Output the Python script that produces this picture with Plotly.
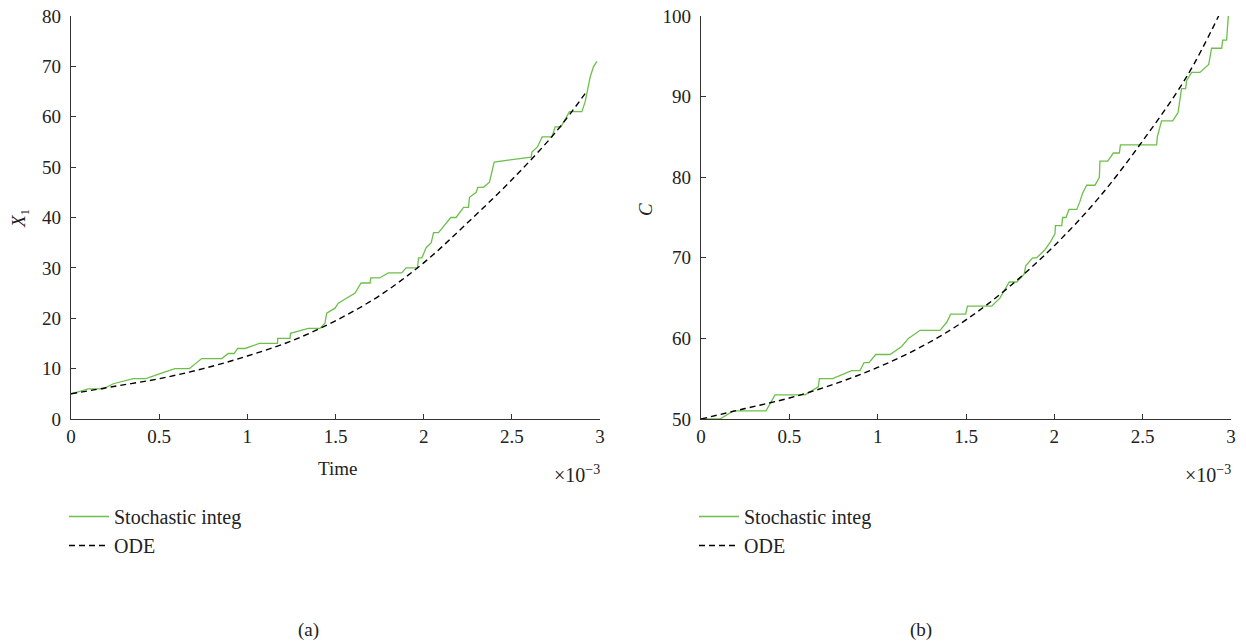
import plotly.graph_objects as go

W, H = 1246, 643

# ---- Panel (a): X1 vs time (time in units of 1e-3) ----
t_a = [0, 0.098, 0.183, 0.24, 0.353, 0.425, 0.505, 0.59, 0.671, 0.741,
       0.855, 0.892, 0.925, 0.945, 0.987, 1.068, 1.171, 1.172, 1.242, 1.245,
       1.346, 1.412, 1.44, 1.45, 1.497, 1.516, 1.611, 1.645, 1.696, 1.70,
       1.749, 1.80, 1.876, 1.90, 1.965, 1.971, 1.99, 2.014, 2.043, 2.056,
       2.084, 2.132, 2.154, 2.184, 2.226, 2.254, 2.26, 2.298, 2.307, 2.339,
       2.373, 2.40, 2.61, 2.614, 2.645, 2.672, 2.727, 2.746, 2.778, 2.827,
       2.897, 2.916, 2.945, 2.964, 2.983]
x1_stoch = [5, 6, 6, 7, 8, 8, 9, 10, 10, 12,
            12, 13, 13, 14, 14, 15, 15, 16, 16, 17,
            18, 18, 19, 21, 22, 23, 25, 27, 27, 28,
            28, 29, 29, 30, 30, 32, 32, 34, 35, 37,
            37, 39, 40, 40, 42, 42, 44, 45, 46, 46,
            47, 51, 52, 53, 54, 56, 56, 58, 58, 61,
            61, 63, 68, 70, 71]

t_ode = [0, 0.25, 0.5, 0.75, 1.0, 1.25, 1.5, 1.75, 2.0, 2.25, 2.5, 2.75, 2.93]
x1_ode = [5, 6.5, 8, 10, 12.5, 15.5, 19.5, 24.5, 31, 39, 47.5, 57, 65.3]

# ---- Panel (b): C vs time ----
t_b = [0, 0.108, 0.183, 0.368, 0.419, 0.589, 0.664, 0.67, 0.745, 0.853,
       0.90, 0.923, 0.951, 0.989, 1.07, 1.136, 1.174, 1.24, 1.353, 1.391,
       1.413, 1.498, 1.508, 1.645, 1.692, 1.745, 1.787, 1.83, 1.838, 1.877,
       1.90, 1.947, 1.979, 2.004, 2.006, 2.042, 2.047, 2.066, 2.083, 2.127,
       2.145, 2.16, 2.183, 2.23, 2.255, 2.258, 2.302, 2.334, 2.368, 2.374,
       2.579, 2.583, 2.607, 2.67, 2.70, 2.72, 2.743, 2.749, 2.777, 2.824,
       2.874, 2.89, 2.947, 2.953, 2.975, 2.985]
c_stoch = [50, 50, 51, 51, 53, 53, 54, 55, 55, 56,
           56, 57, 57, 58, 58, 59, 60, 61, 61, 62,
           63, 63, 64, 64, 65, 67, 67, 68, 69, 70,
           70, 71, 72, 73, 74, 74, 75, 75, 76, 76,
           77, 78, 79, 79, 80, 82, 82, 83, 83, 84,
           84, 85, 87, 87, 88, 91, 91, 92, 93, 93,
           94, 96, 96, 97, 97, 100]

c_ode = [50, 51.3, 52.6, 54.3, 56.4, 59, 62.3, 66.5, 71.5, 77.4, 84.5, 92.5, 100]

x_ticks = [0, 0.5, 1, 1.5, 2, 2.5, 3]
x_ticklabels = ["0", "0.5", "1", "1.5", "2", "2.5", "3"]
ya_ticks = [0, 10, 20, 30, 40, 50, 60, 70, 80]
yb_ticks = [50, 60, 70, 80, 90, 100]

GREEN = "#6cc04a"
FONT = "Liberation Serif"
TXT = "#222222"
FS = 19
FS_LEG = 20


def fx(px):
    return px / W


def fy(py):
    return 1 - py / H


fig = go.Figure()
fig.add_trace(go.Scatter(x=t_a, y=x1_stoch, mode="lines", name="Stochastic integ",
                         line=dict(color=GREEN, width=1.3), xaxis="x", yaxis="y",
                         legend="legend"))
fig.add_trace(go.Scatter(x=t_ode, y=x1_ode, mode="lines", name="ODE",
                         line=dict(color="black", width=1.4, dash="6px,4px", shape="spline"),
                         xaxis="x", yaxis="y", legend="legend"))
fig.add_trace(go.Scatter(x=t_b, y=c_stoch, mode="lines", name="Stochastic integ",
                         line=dict(color=GREEN, width=1.3), xaxis="x2", yaxis="y2",
                         legend="legend2"))
fig.add_trace(go.Scatter(x=t_ode, y=c_ode, mode="lines", name="ODE",
                         line=dict(color="black", width=1.4, dash="6px,4px", shape="spline"),
                         xaxis="x2", yaxis="y2", legend="legend2"))

ydom = [fy(419), fy(16)]
axis_common = dict(showline=True, linecolor="#333333", linewidth=1.2,
                   ticks="inside", ticklen=5, tickcolor="#333333", tickwidth=1.2,
                   showgrid=False, zeroline=False, mirror=False, automargin=False,
                   ticklabeloverflow="allow",
                   tickfont=dict(family=FONT, size=FS, color=TXT))

fig.update_layout(
    template="none",
    width=W, height=H, autosize=False,
    paper_bgcolor="white", plot_bgcolor="white",
    margin=dict(l=0, r=0, t=0, b=0, pad=0, autoexpand=False),
    font=dict(family=FONT, size=FS, color=TXT),
    xaxis=dict(domain=[fx(71), fx(600)], range=[0, 3], tickvals=x_ticks,
               ticktext=x_ticklabels, anchor="y", ticklabelstandoff=0, **axis_common),
    yaxis=dict(domain=ydom, range=[0, 80], tickvals=ya_ticks, anchor="x",
               ticklabelstandoff=5, **axis_common),
    xaxis2=dict(domain=[fx(701), fx(1231)], range=[0, 3], tickvals=x_ticks,
                ticktext=x_ticklabels, anchor="y2", ticklabelstandoff=0, **axis_common),
    yaxis2=dict(domain=ydom, range=[50, 100], tickvals=yb_ticks, anchor="x2",
                ticklabelstandoff=5, **axis_common),
    legend=dict(x=fx(64), y=fy(497), xanchor="left", yanchor="top",
                bgcolor="rgba(0,0,0,0)", font=dict(family=FONT, size=FS_LEG, color=TXT),
                itemwidth=40, tracegroupgap=0, borderwidth=0),
    legend2=dict(x=fx(694), y=fy(497), xanchor="left", yanchor="top",
                 bgcolor="rgba(0,0,0,0)", font=dict(family=FONT, size=FS_LEG, color=TXT),
                 itemwidth=40, tracegroupgap=0, borderwidth=0),
    showlegend=True,
)

annots = [
    dict(text="Time", x=fx(337), y=fy(468), xanchor="center", yanchor="middle", size=FS),
    dict(text="×10<sup>−3</sup>", x=fx(602), y=fy(474), xanchor="right", yanchor="middle", size=20),
    dict(text="×10<sup>−3</sup>", x=fx(1233), y=fy(474), xanchor="right", yanchor="middle", size=20),
    dict(text="<i>X</i><sub>1</sub>", x=fx(20), y=fy(218), xanchor="center",
         yanchor="middle", textangle=-90, size=FS),
    dict(text="<i>C</i>", x=fx(645), y=fy(210), xanchor="center", yanchor="middle",
         textangle=-90, size=FS),
    dict(text="(a)", x=fx(308), y=fy(630), xanchor="center", yanchor="middle", size=FS),
    dict(text="(b)", x=fx(921), y=fy(630), xanchor="center", yanchor="middle", size=FS),
]
for a in annots:
    sz = a.pop("size")
    fig.add_annotation(xref="paper", yref="paper", showarrow=False,
                       font=dict(family=FONT, size=sz, color=TXT), **a)

fig.write_html("out.html",
               config={"displayModeBar": False},
               post_script="document.body.style.margin='0px';"
                           "document.body.style.overflow='hidden';")
